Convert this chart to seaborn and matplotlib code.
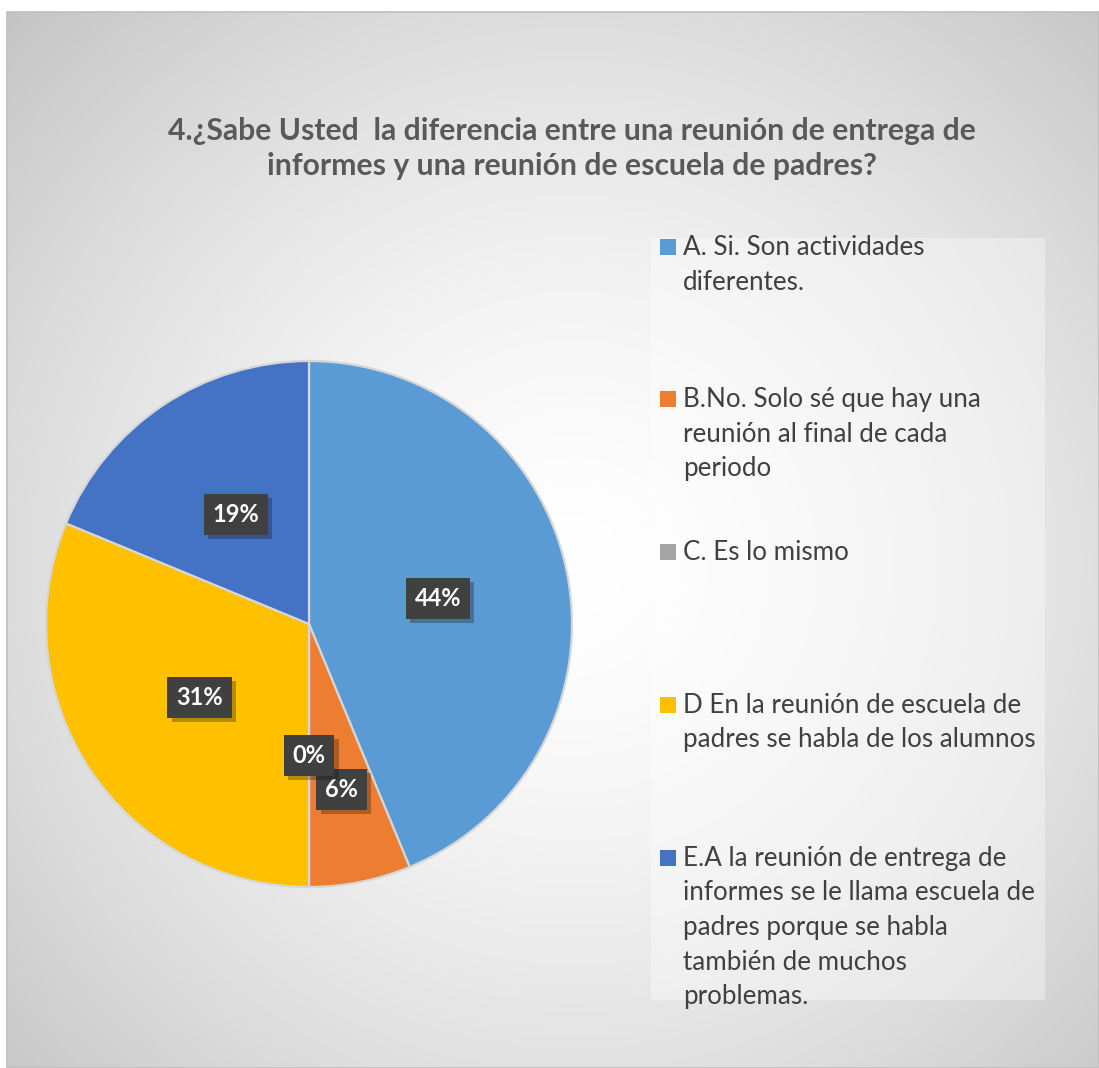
import numpy as np
import matplotlib
matplotlib.use("Agg")
import matplotlib.pyplot as plt
import matplotlib.patheffects as pe
from matplotlib.patches import Rectangle
import seaborn as sns

# ---- data ----
categories = [
    "A. Si. Son actividades\ndiferentes.",
    "B.No. Solo sé que hay una\nreunión al final de cada\nperiodo",
    "C. Es lo mismo",
    "D En la reunión de escuela de\npadres se habla de los alumnos",
    "E.A la reunión de entrega de\ninformes se le llama escuela de\npadres porque se habla\ntambién de muchos\nproblemas.",
]
counts = [7, 1, 0, 5, 3]
pct_labels = ["44%", "6%", "0%", "31%", "19%"]
colors = ["#5B9BD5", "#ED7D31", "#A5A5A5", "#FFC000", "#4472C4"]
title_lines = ["4.¿Sabe Usted  la diferencia entre una reunión de entrega de",
               "informes y una reunión de escuela de padres?"]

sns.set_theme(style="white")
plt.rcParams["font.family"] = ["Lato", "DejaVu Sans"]

W, H = 1099, 1068
fig = plt.figure(figsize=(W / 100, H / 100), dpi=100, facecolor="white")

# ---- background with radial gradient ----
bg = fig.add_axes([0, 0, 1, 1])
bg.set_xlim(0, W)
bg.set_ylim(H, 0)
bg.axis("off")
yy, xx = np.mgrid[0:H, 0:W]
cx, cy = 570, 560
d = np.sqrt((xx - cx) ** 2 + (yy - cy) ** 2) / np.sqrt(cx ** 2 + cy ** 2)
d = np.clip(d, 0, 1)
val = 1.0 - 0.23 * d ** 1.5
img = np.dstack([val, val, val])
bg.imshow(img, extent=(7, W, H, 12), aspect="auto", zorder=0)
bg.add_patch(Rectangle((7, 12), W - 7, H - 12, fill=False, edgecolor="#BFBFBF", lw=1.2, zorder=1))
# legend panel
bg.add_patch(Rectangle((651, 238), 394, 762, facecolor="white", alpha=0.35, edgecolor="none", zorder=1))

# ---- title ----
for i, line in enumerate(title_lines):
    bg.text(571.5, 131 + 35 * i, line, ha="center", va="center", fontsize=21.7,
            fontweight="bold", color="#595959", zorder=3)

# ---- pie ----
R = 263
pcx, pcy = 309, 624
ax = fig.add_axes([(pcx - R) / W, (H - pcy - R) / H, 2 * R / W, 2 * R / H])
ax.patch.set_alpha(0)
wedges, _ = ax.pie(counts, colors=colors, startangle=90, counterclock=False,
                   wedgeprops=dict(edgecolor="#D6D6D6", linewidth=1.6))
ax.set_xlim(-1, 1)
ax.set_ylim(-1, 1)
ax.set_aspect("equal")
ax.axis("off")

label_r = [0.5, 0.64, 0.5, 0.5, 0.5]
for w, lab, r in zip(wedges, pct_labels, label_r):
    th = np.deg2rad((w.theta1 + w.theta2) / 2)
    t = ax.text(r * np.cos(th), r * np.sin(th), lab, ha="center", va="center",
                fontsize=17, fontweight="bold", color="white", zorder=5,
                bbox=dict(boxstyle="square,pad=0.38", facecolor="#404040", edgecolor="none"))
    t.get_bbox_patch().set_path_effects([pe.withSimplePatchShadow(offset=(3, -3), alpha=0.3), pe.Normal()])

# ---- legend (manual layout) ----
baselines = [255, 407, 560, 713, 866]
line_step = 34.5
for lab, col, b in zip(categories, colors, baselines):
    bg.add_patch(Rectangle((660, b - 16), 16, 16, facecolor=col, edgecolor="none", zorder=3))
    for i, line in enumerate(lab.split("\n")):
        bg.text(683, b + i * line_step, line, ha="left", va="baseline", fontsize=18.7,
                color="#404040", zorder=3)

fig.savefig("out.png", dpi=100, facecolor="white")
